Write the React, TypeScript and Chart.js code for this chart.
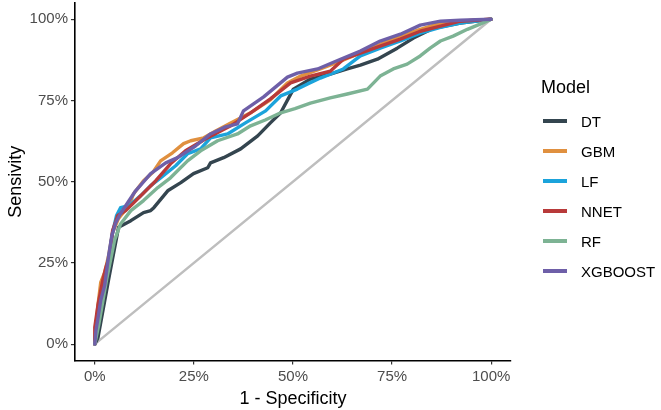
import { useEffect, useRef } from "react"
import { Chart, registerables } from "chart.js"

Chart.register(...registerables)

// ROC points: [1 - specificity, sensitivity]
const dtPoints = [
  [0, 0], [0.008, 0.02], [0.035, 0.2], [0.06, 0.36], [0.091, 0.38], [0.123, 0.405], [0.141, 0.411],
  [0.149, 0.42], [0.184, 0.472], [0.217, 0.497], [0.249, 0.525], [0.285, 0.543], [0.292, 0.558],
  [0.325, 0.574], [0.368, 0.601], [0.411, 0.641], [0.443, 0.681], [0.469, 0.712], [0.501, 0.785],
  [0.544, 0.816], [0.594, 0.831], [0.637, 0.847], [0.67, 0.859], [0.713, 0.877], [0.763, 0.911],
  [0.804, 0.942], [0.854, 0.972], [0.922, 0.988], [1, 1],
]
const gbmPoints = [
  [0, 0], [0.003, 0.058], [0.008, 0.12], [0.015, 0.19], [0.025, 0.221], [0.035, 0.273], [0.045, 0.344],
  [0.06, 0.387], [0.086, 0.426], [0.098, 0.463], [0.123, 0.503], [0.146, 0.528], [0.166, 0.564],
  [0.196, 0.589], [0.224, 0.617], [0.242, 0.626], [0.275, 0.635], [0.305, 0.656], [0.343, 0.681],
  [0.393, 0.712], [0.443, 0.752], [0.486, 0.804], [0.519, 0.825], [0.569, 0.847], [0.62, 0.871],
  [0.67, 0.896], [0.72, 0.923], [0.771, 0.948], [0.821, 0.969], [0.872, 0.988], [0.922, 0.994], [1, 1],
]
const lfPoints = [
  [0, 0], [0.005, 0.067], [0.013, 0.135], [0.023, 0.196], [0.035, 0.264], [0.045, 0.344], [0.055, 0.396],
  [0.065, 0.42], [0.086, 0.426], [0.116, 0.457], [0.141, 0.488], [0.166, 0.512], [0.204, 0.549],
  [0.234, 0.586], [0.267, 0.601], [0.292, 0.635], [0.335, 0.647], [0.38, 0.681], [0.431, 0.718],
  [0.469, 0.764], [0.511, 0.785], [0.537, 0.801], [0.569, 0.819], [0.627, 0.847], [0.67, 0.887],
  [0.72, 0.911], [0.771, 0.933], [0.821, 0.957], [0.872, 0.975], [0.922, 0.988], [1, 1],
]
const nnetPoints = [
  [0, 0], [0, 0.052], [0.008, 0.12], [0.02, 0.196], [0.028, 0.236], [0.038, 0.273], [0.045, 0.35],
  [0.058, 0.396], [0.078, 0.411], [0.116, 0.457], [0.154, 0.503], [0.191, 0.555], [0.229, 0.595],
  [0.28, 0.632], [0.343, 0.672], [0.393, 0.712], [0.443, 0.755], [0.494, 0.804], [0.544, 0.825],
  [0.594, 0.84], [0.627, 0.877], [0.67, 0.896], [0.72, 0.917], [0.771, 0.939], [0.821, 0.963],
  [0.872, 0.979], [0.922, 0.994], [1, 1],
]
const rfPoints = [
  [0, 0], [0.01, 0.06], [0.03, 0.2], [0.05, 0.32], [0.065, 0.37], [0.091, 0.411], [0.123, 0.442],
  [0.159, 0.482], [0.191, 0.512], [0.234, 0.564], [0.267, 0.595], [0.31, 0.626], [0.36, 0.647],
  [0.393, 0.672], [0.43, 0.69], [0.469, 0.712], [0.505, 0.725], [0.544, 0.742], [0.594, 0.758],
  [0.637, 0.77], [0.688, 0.785], [0.72, 0.825], [0.753, 0.847], [0.788, 0.862], [0.821, 0.887],
  [0.846, 0.911], [0.872, 0.933], [0.904, 0.948], [0.94, 0.969], [0.972, 0.985], [1, 1],
]
const xgboostPoints = [
  [0, 0], [0.003, 0.043], [0.008, 0.08], [0.015, 0.135], [0.025, 0.181], [0.035, 0.273], [0.043, 0.334],
  [0.053, 0.374], [0.065, 0.402], [0.103, 0.472], [0.141, 0.525], [0.179, 0.558], [0.209, 0.574],
  [0.254, 0.61], [0.292, 0.647], [0.33, 0.669], [0.36, 0.678], [0.375, 0.718], [0.426, 0.761],
  [0.486, 0.822], [0.511, 0.834], [0.562, 0.847], [0.62, 0.877], [0.67, 0.902], [0.72, 0.933],
  [0.771, 0.954], [0.821, 0.982], [0.872, 0.994], [0.922, 0.997], [1, 1],
]
const diagonalPoints = [[0, 0], [1, 1]]

const models = ["DT", "GBM", "LF", "NNET", "RF", "XGBOOST"]
const modelPoints = [dtPoints, gbmPoints, lfPoints, nnetPoints, rfPoints, xgboostPoints]
const modelColors = ["#34454f", "#e0903f", "#1ba3db", "#b83a3a", "#7db394", "#6e5fa8"]
const tickValues = [0, 0.25, 0.5, 0.75, 1]

const FONT = "'Liberation Sans', Arial, sans-serif"

export default function App() {
  const canvasRef = useRef<HTMLCanvasElement>(null)

  useEffect(() => {
    document.body.style.margin = "0"
    if (!canvasRef.current) return
    const ctx = canvasRef.current.getContext("2d")
    if (!ctx) return

    const datasets: any[] = [
      {
        label: "diagonal",
        data: diagonalPoints.map(([x, y]) => ({ x, y })),
        borderColor: "#bebebe",
        borderWidth: 2.5,
        order: 10,
      },
      ...models.map((m, i) => ({
        label: m,
        data: modelPoints[i].map(([x, y]) => ({ x, y })),
        borderColor: modelColors[i],
        borderWidth: 3.4,
        order: models.length - i,
      })),
    ]

    const pct = (v: any) => `${Math.round(Number(v) * 100)}%`
    const setTicks = (axis: any) => {
      axis.ticks = tickValues.map((v) => ({ value: v }))
    }

    const chart = new Chart(ctx, {
      type: "scatter",
      data: { datasets },
      options: {
        animation: false,
        responsive: true,
        maintainAspectRatio: false,
        showLine: true,
        elements: { point: { radius: 0 }, line: { tension: 0, borderJoinStyle: "round", borderCapStyle: "round" } },
        layout: { padding: { top: 3, right: 150, left: 2, bottom: 0 } },
        plugins: { legend: { display: false }, tooltip: { enabled: false } },
        scales: {
          x: {
            type: "linear",
            min: -0.05,
            max: 1.05,
            afterBuildTicks: setTicks,
            afterFit: (axis: any) => {
              axis.paddingLeft = 0
              axis.paddingRight = 0
            },
            grid: { drawOnChartArea: false, drawTicks: true, tickLength: 4, color: "#333333", lineWidth: 1.2 },
            border: { display: true, color: "#000000", width: 1.6 },
            ticks: { color: "#4d4d4d", font: { family: FONT, size: 15 }, padding: 3, callback: pct },
            title: {
              display: true,
              text: "1 - Specificity",
              color: "#000000",
              font: { family: FONT, size: 18 },
              padding: { top: 0, bottom: 0 },
            },
          },
          y: {
            type: "linear",
            min: -0.05,
            max: 1.05,
            afterBuildTicks: setTicks,
            afterFit: (axis: any) => {
              axis.paddingTop = 0
              axis.paddingBottom = 0
            },
            grid: { drawOnChartArea: false, drawTicks: true, tickLength: 4, color: "#333333", lineWidth: 1.2 },
            border: { display: true, color: "#000000", width: 1.6 },
            ticks: { color: "#4d4d4d", font: { family: FONT, size: 15 }, padding: 3, callback: pct },
            title: {
              display: true,
              text: "Sensivity",
              color: "#000000",
              font: { family: FONT, size: 18 },
              padding: { top: 3, bottom: 0 },
            },
          },
        },
      },
    })

    return () => chart.destroy()
  }, [])

  return (
    <div style={{ position: "relative", width: 661, height: 410, fontFamily: FONT }}>
      <canvas ref={canvasRef}></canvas>
      <div style={{ position: "absolute", left: 541, top: 76 }}>
        <div style={{ fontSize: 18, color: "#000", lineHeight: "22px", marginBottom: 8 }}>Model</div>
        {models.map((m, i) => (
          <div key={m} style={{ display: "flex", alignItems: "center", height: 30 }}>
            <span style={{ display: "inline-block", width: 24, height: 4, background: modelColors[i], marginLeft: 2, marginRight: 14 }}></span>
            <span style={{ fontSize: 15, color: "#000" }}>{m}</span>
          </div>
        ))}
      </div>
    </div>
  )
}
